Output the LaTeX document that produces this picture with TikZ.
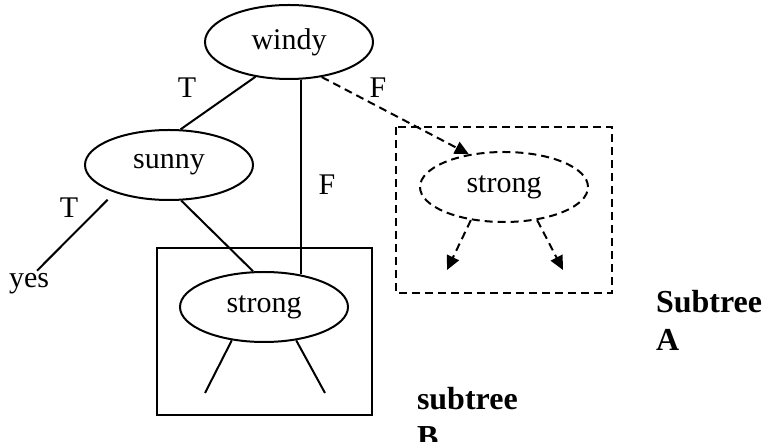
\documentclass[tikz,border=0pt]{standalone}
\usepackage{fontspec}
\setmainfont{Liberation Serif}
\usetikzlibrary{shapes.geometric,arrows.meta}

\begin{document}
\begin{tikzpicture}[x=0.5pt, y=-0.5pt, line width=1pt,
	every node/.style={font=\fontsize{15}{18}\selectfont},
	attr/.style={draw, ellipse, inner sep=0pt, minimum width=84pt, minimum height=35pt},
	ghost/.style={dash pattern=on 4pt off 2.5pt},
	tip/.style={-{Triangle[length=7pt,width=6.5pt]}},
	tag/.style={anchor=north west, inner sep=0pt, align=left, font=\fontsize{16}{19}\selectfont\bfseries}]
	\useasboundingbox (0,0) rectangle (765,442);
	% tree nodes
	\node[attr, minimum height=37pt] (windy) at (289,42) {windy};
	\node[attr] (sunny) at (169,165) {sunny};
	\node[attr] (strongB) at (264,307) {strong};
	\node[attr, ghost] (strongA) at (504,187) {strong};
	\node[inner sep=1pt] (yes) at (29,284) {yes};
	% branch labels
	\node (t1) at (187,88) {T};
	\node (f1) at (378,88) {F};
	\node (f2) at (327,185) {F};
	\node (t2) at (69,208) {T};
	% subtree frames
	\draw (157,248) rectangle (372,415);
	\draw[ghost] (396,127) rectangle (612,293);
	\node[tag] (subA) at (655,289) {Subtree\\A};
	\node[tag] (subB) at (416,386) {subtree\\B};
	% branches
	\draw (windy.226) -- (sunny.72);
	\draw (windy.288) -- (windy.288 |- strongB.45);
	\draw[ghost, tip] (windy.313) -- (strongA.137);
	\draw (sunny.289) -- (strongB.107);
	\draw[shorten <=5pt] (sunny.207) -- ([xshift=4pt]yes.north);
	\coordinate (bl) at (205,393);
	\coordinate (br) at (325,393);
	\draw (strongB.226) -- (bl);
	\draw (strongB.314) -- (br);
	\coordinate (al) at (447,270);
	\coordinate (ar) at (563,270);
	\draw[ghost, tip] (strongA.225) -- (al);
	\draw[ghost, tip] (strongA.315) -- (ar);
\end{tikzpicture}
\end{document}
